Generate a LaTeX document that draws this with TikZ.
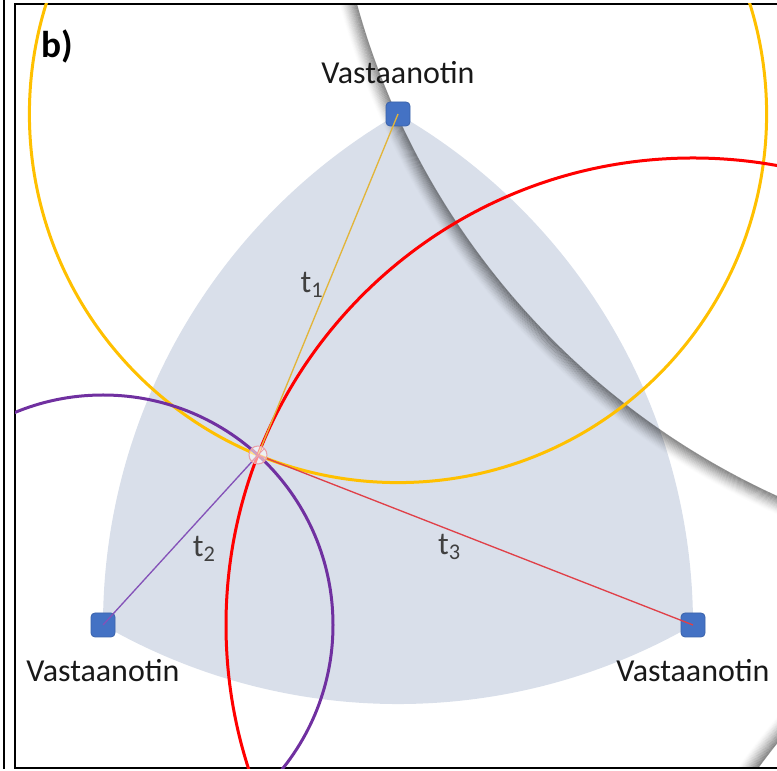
\documentclass[tikz,border=0pt]{standalone}
\usepackage{fontspec}
\setmainfont{Carlito}
\usetikzlibrary{positioning}

\definecolor{zonefill}{HTML}{D9DFEA}
\definecolor{rxblue}{HTML}{4472C4}
\definecolor{rxedge}{HTML}{3A62AA}
\definecolor{rangeyellow}{HTML}{FFC000}
\definecolor{rangepurple}{HTML}{7030A0}
\definecolor{rangered}{HTML}{FF0000}
\definecolor{distyellow}{HTML}{E2B53A}
\definecolor{distpurple}{HTML}{8452B8}
\definecolor{distred}{HTML}{E04048}
\definecolor{tgray}{HTML}{404040}
\definecolor{hitpink}{HTML}{E8A0A8}

\begin{document}
\begin{tikzpicture}[
  x=0.75pt, y=0.75pt,
  font=\fontsize{24}{28}\selectfont,
  receiver/.style={draw=rxedge, line width=0.6pt, fill=rxblue, rounded corners=3pt, minimum size=18pt, inner sep=0pt},
  rxlabel/.style={inner sep=0pt, text=black!90},
  rangecircle/.style={line width=2.25pt},
  dist/.style={line width=1pt},
  tlabel/.style={text=tgray, inner sep=3pt},
  hit/.style={circle, draw=hitpink, fill=white, fill opacity=0.55, minimum size=13.5pt, inner sep=0pt, line width=0.8pt}
]
\useasboundingbox (0,0) rectangle (777,770);

% panel frames
\draw[line width=1.5pt] (3.5,770) -- (3.5,1);
\draw[line width=1.5pt] (777,766) -- (15,766) -- (15,2) -- (777,2);

\coordinate (ctop) at (398,656);
\coordinate (cleft) at (103,145);
\coordinate (cright) at (693,145);
\coordinate (chit) at (258,315);

\begin{scope}
\clip (15,2) rectangle (777,766);

% area covered by the three receivers
\fill[zonefill] (cleft) arc[start angle=240, end angle=300, radius=590]
  arc[start angle=0, end angle=60, radius=590]
  arc[start angle=120, end angle=180, radius=590] -- cycle;

% shadow of the next page
\foreach \i in {0,...,16} {
  \pgfmathsetmacro\op{0.42*(1-\i/17)^1.4}
  \draw[black, line width=0.8pt, draw opacity=\op] (1094,970) circle[radius=765+\i];
  \draw[black, line width=0.8pt, draw opacity=\op] (1375,-450) circle[radius=765+\i];
}

% range circles
\draw[rangecircle, rangeyellow] (ctop) circle[radius=368.6];
\draw[rangecircle, rangepurple] (cleft) circle[radius=230];
\draw[rangecircle, rangered] (cright) circle[radius=467];
\end{scope}

\node[receiver] (rxtop) at (ctop) {};
\node[receiver] (rxleft) at (cleft) {};
\node[receiver] (rxright) at (cright) {};

\draw[dist, distyellow] (chit) -- node[tlabel, left] {t\textsubscript{1}} (rxtop.center);
\draw[dist, distpurple] (chit) -- node[tlabel, below right, pos=0.45] {t\textsubscript{2}} (rxleft.center);
\draw[dist, distred] (chit) -- node[tlabel, below, pos=0.44] {t\textsubscript{3}} (rxright.center);

\node[hit] (hit) at (chit) {};
\draw[hitpink, line width=0.6pt] (hit.north west) -- (hit.south east) (hit.north east) -- (hit.south west);

\node[rxlabel, above=13.5pt of rxtop] (lbltop) {Vastaanotin};
\node[rxlabel, below=16pt of rxleft] (lblleft) {Vastaanotin};
\node[rxlabel, below=16pt of rxright] (lblright) {Vastaanotin};

\node[font=\fontsize{28}{32}\selectfont\bfseries, inner sep=0pt] (panel) at (57,724) {b)};
\end{tikzpicture}
\end{document}
